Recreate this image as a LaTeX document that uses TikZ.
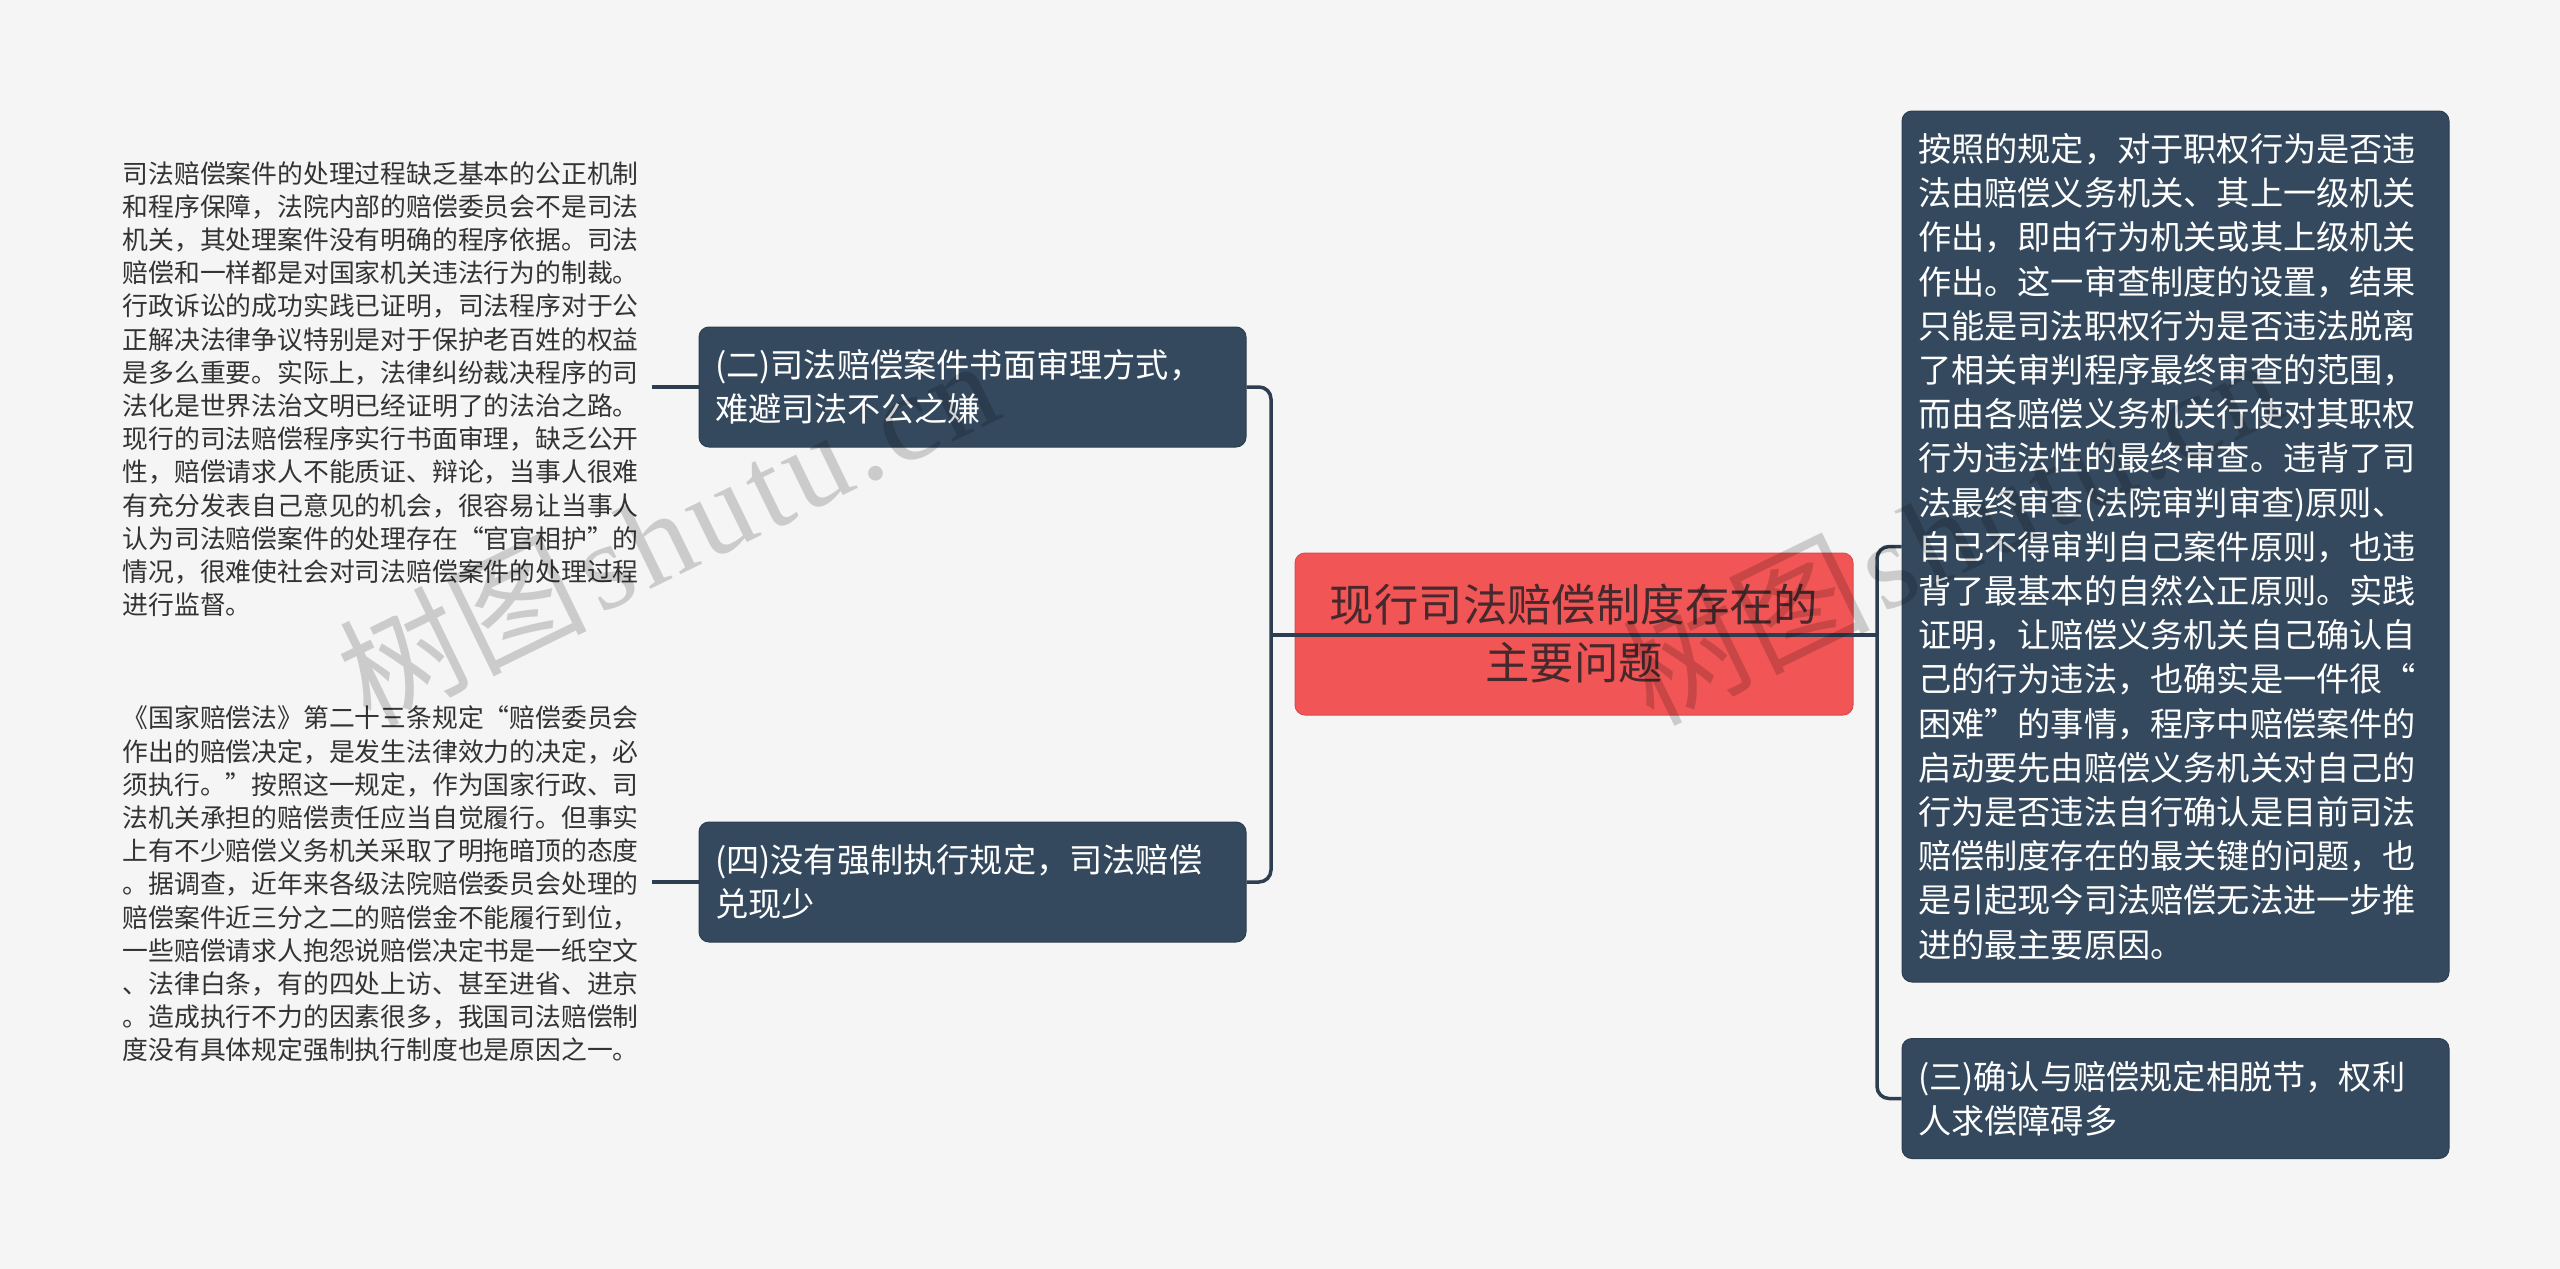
\documentclass[tikz,border=0pt]{standalone}
\usepackage{fontspec}
\setmainfont{Noto Sans CJK SC}
\newfontfamily\markfont[LetterSpace=4]{Liberation Serif}
\definecolor{pagegray}{HTML}{F5F5F5}
\definecolor{boxblue}{HTML}{34495E}
\definecolor{linkblue}{HTML}{2C3E50}
\definecolor{rootred}{HTML}{F25555}
\definecolor{rootink}{HTML}{46292D}
\definecolor{leafink}{HTML}{333333}
\tikzset{
  rootbox/.style={rounded corners=5pt,fill=rootred,draw=rootred!90!black,line width=.5pt,minimum width=279pt,minimum height=81pt,align=center,text=rootink,font=\fontsize{22.2}{29}\selectfont},
  pointbox/.style={rounded corners=5pt,fill=boxblue,draw=linkblue,line width=.5pt,minimum width=273.5pt,minimum height=60pt,inner xsep=8pt,text width=257.5pt,align=left,text=white,font=\fontsize{16.6}{22.1}\selectfont},
  leafbox/.style={anchor=east,inner sep=6.5pt,align=left,text=leafink,font=\fontsize{12.9}{16.6}\selectfont},
  link/.style={draw=linkblue,line width=1.75pt},
  wmark/.style={rotate=26,anchor=west,text=black,text opacity=.17,font=\fontsize{62}{66}\selectfont}
}
\begin{document}
\begin{tikzpicture}
  [x=.5pt,y=-.5pt]
  \fill[pagegray] (0,0) rectangle (2560,1269);

  \node[rootbox] (root) at (1574,634) {现行司法赔偿制度存在的\\主要问题};
  \node[pointbox] (er) at (972.5,387) {(二)司法赔偿案件书面审理方式，\\难避司法不公之嫌};
  \node[pointbox] (si) at (972.5,882) {(四)没有强制执行规定，司法赔偿\\兑现少};
  \node[pointbox,minimum height=435.5pt] (main) at (2175.5,546.5) {按照的规定，对于职权行为是否违\\法由赔偿义务机关、其上一级机关\\作出，即由行为机关或其上级机关\\作出。这一审查制度的设置，结果\\只能是司法职权行为是否违法脱离\\了相关审判程序最终审查的范围，\\而由各赔偿义务机关行使对其职权\\行为违法性的最终审查。违背了司\\法最终审查(法院审判审查)原则、\\自己不得审判自己案件原则，也违\\背了最基本的自然公正原则。实践\\证明，让赔偿义务机关自己确认自\\己的行为违法，也确实是一件很“\\困难”的事情，程序中赔偿案件的\\启动要先由赔偿义务机关对自己的\\行为是否违法自行确认是目前司法\\赔偿制度存在的最关键的问题，也\\是引起现今司法赔偿无法进一步推\\进的最主要原因。};
  \node[pointbox] (san) at (2175.5,1098.5) {(三)确认与赔偿规定相脱节，权利\\人求偿障碍多};

  \node[leafbox] (leafer) at (652,389) {司法赔偿案件的处理过程缺乏基本的公正机制\\和程序保障，法院内部的赔偿委员会不是司法\\机关，其处理案件没有明确的程序依据。司法\\赔偿和一样都是对国家机关违法行为的制裁。\\行政诉讼的成功实践已证明，司法程序对于公\\正解决法律争议特别是对于保护老百姓的权益\\是多么重要。实际上，法律纠纷裁决程序的司\\法化是世界法治文明已经证明了的法治之路。\\现行的司法赔偿程序实行书面审理，缺乏公开\\性，赔偿请求人不能质证、辩论，当事人很难\\有充分发表自己意见的机会，很容易让当事人\\认为司法赔偿案件的处理存在“官官相护”的\\情况，很难使社会对司法赔偿案件的处理过程\\进行监督。};
  \node[leafbox] (leafsi) at (652,884) {《国家赔偿法》第二十三条规定“赔偿委员会\\作出的赔偿决定，是发生法律效力的决定，必\\须执行。”按照这一规定，作为国家行政、司\\法机关承担的赔偿责任应当自觉履行。但事实\\上有不少赔偿义务机关采取了明拖暗顶的态度\\。据调查，近年来各级法院赔偿委员会处理的\\赔偿案件近三分之二的赔偿金不能履行到位，\\一些赔偿请求人抱怨说赔偿决定书是一纸空文\\、法律白条，有的四处上访、甚至进省、进京\\。造成执行不力的因素很多，我国司法赔偿制\\度没有具体规定强制执行制度也是原因之一。};

  \coordinate (trunkl) at (1271,635);
  \coordinate (trunkr) at (1877,635);

  \draw[link] (trunkl) -- (trunkr);
  \draw[link,rounded corners=6pt] (er.east) -| (trunkl) |- (si.east);
  \draw[link,rounded corners=6pt] (main.west) -| (trunkr) |- (san.west);
  \draw[link] (leafer.east |- er.west) -- (er.west);
  \draw[link] (leafsi.east |- si.west) -- (si.west);

  \node[wmark] (marka) at (342,688) {树图{\markfont\hspace{.08em}shutu.cn}};
  \node[wmark] (markb) at (1625,687) {树图{\markfont\hspace{.08em}shutu.cn}};
\end{tikzpicture}
\end{document}
